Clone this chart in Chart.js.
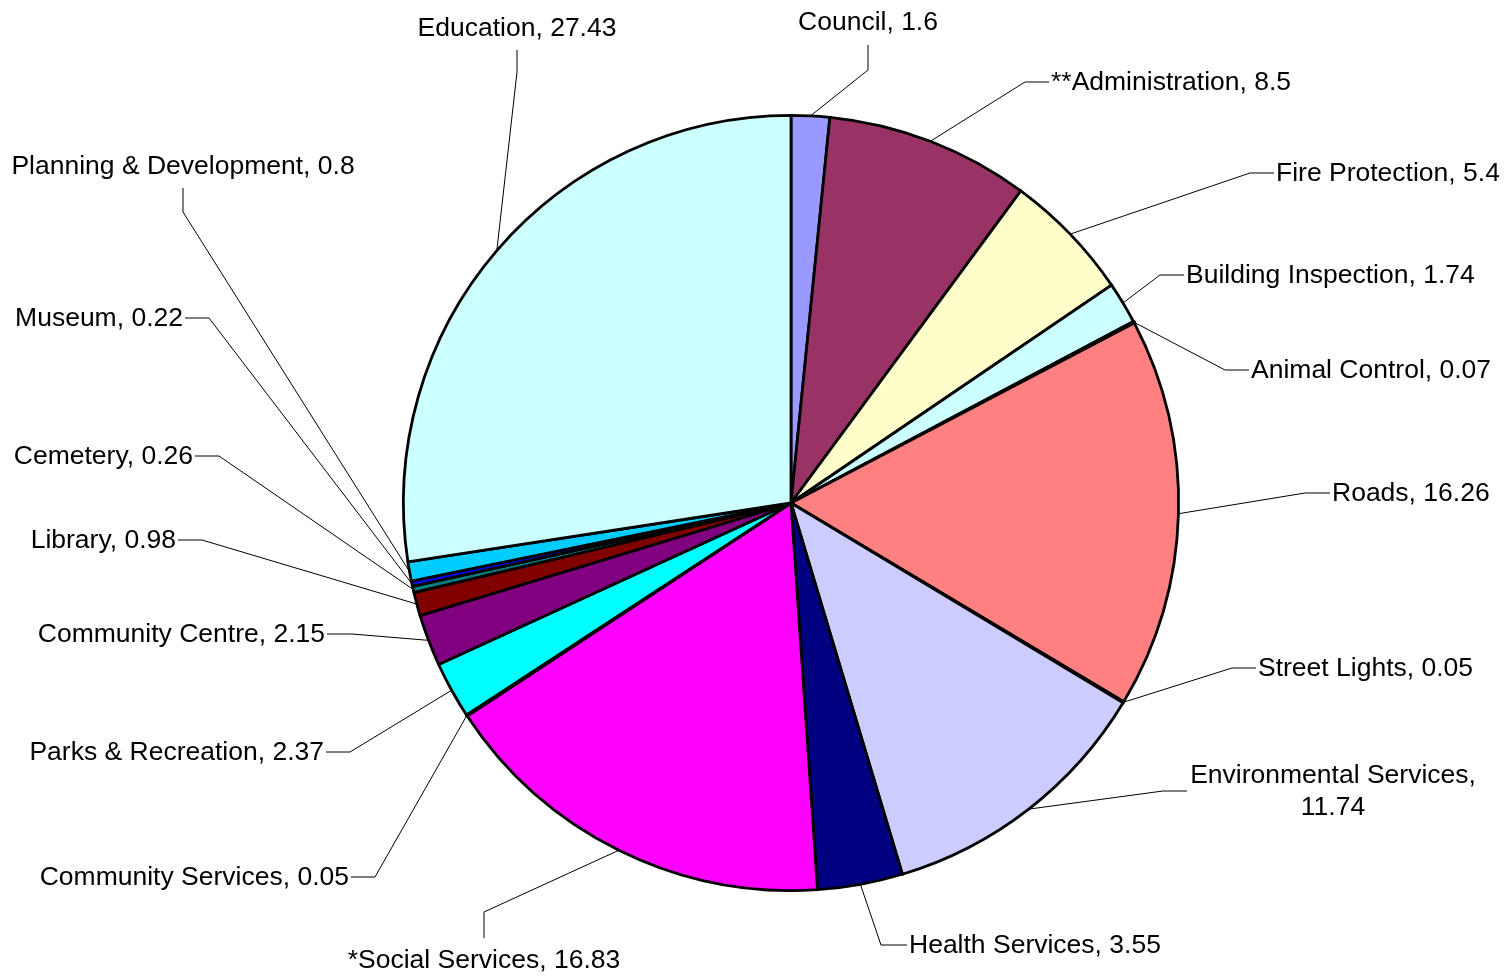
<!DOCTYPE html>
<html>
<head>
<meta charset="utf-8">
<script src="https://cdn.jsdelivr.net/npm/chart.js@4"></script>
<style>
  html, body { margin: 0; padding: 0; background: #fff; }
  #wrap { width: 1507px; height: 976px; }
</style>
</head>
<body>
<div id="wrap"><canvas id="pie" width="1507" height="976"></canvas></div>
<script>
// Budget share by department (%)
const categories = [
    'Council', '**Administration', 'Fire Protection', 'Building Inspection', 'Animal Control',
    'Roads', 'Street Lights', 'Environmental Services', 'Health Services', '*Social Services',
    'Community Services', 'Parks & Recreation', 'Community Centre', 'Library', 'Cemetery',
    'Museum', 'Planning & Development', 'Education'
];
const values = [
    1.6, 8.5, 5.4, 1.74, 0.07,
    16.26, 0.05, 11.74, 3.55, 16.83,
    0.05, 2.37, 2.15, 0.98, 0.26,
    0.22, 0.8, 27.43
];
const colors = [
    '#9999FF', '#993366', '#FFFFCC', '#CCFFFF', '#660066',
    '#FF8080', '#0066CC', '#CCCCFF', '#000080', '#FF00FF',
    '#FFFF00', '#00FFFF', '#800080', '#800000', '#008080',
    '#0000FF', '#00CCFF', '#CCFFFF'
];

// Label placement: elbow of the leader line, its end, where the text sits
const labelLayout = [
    { elbow: [868, 70],   tip: [868, 45],   text: [868, 23],   align: 'center' },
    { elbow: [1025, 82],  tip: [1049, 82],  text: [1051, 83],  align: 'left' },
    { elbow: [1250, 173], tip: [1274, 173], text: [1276, 174], align: 'left' },
    { elbow: [1160, 275], tip: [1184, 275], text: [1186, 276], align: 'left' },
    { elbow: [1225, 370], tip: [1249, 370], text: [1251, 371], align: 'left' },
    { elbow: [1305, 493], tip: [1330, 493], text: [1332, 494], align: 'left' },
    { elbow: [1232, 668], tip: [1256, 668], text: [1258, 669], align: 'left' },
    { elbow: [1163, 791], tip: [1187, 791], text: [1333, 776], align: 'center', split: true },
    { elbow: [881, 945],  tip: [907, 945],  text: [909, 946],  align: 'left' },
    { elbow: [484, 912],  tip: [484, 938],  text: [484, 961],  align: 'center' },
    { elbow: [375, 877],  tip: [351, 877],  text: [349, 878],  align: 'right' },
    { elbow: [350, 752],  tip: [326, 752],  text: [324, 753],  align: 'right' },
    { elbow: [352, 634],  tip: [327, 634],  text: [325, 635],  align: 'right' },
    { elbow: [202, 540],  tip: [178, 540],  text: [176, 541],  align: 'right' },
    { elbow: [219, 456],  tip: [195, 456],  text: [193, 457],  align: 'right' },
    { elbow: [209, 318],  tip: [185, 318],  text: [183, 319],  align: 'right' },
    { elbow: [183, 212],  tip: [183, 188],  text: [183, 167],  align: 'center' },
    { elbow: [517, 72],   tip: [517, 50],   text: [517, 29],   align: 'center' }
];

const leaderLabels = {
    id: 'leaderLabels',
    afterDatasetsDraw(chart) {
        const ctx = chart.ctx;
        const meta = chart.getDatasetMeta(0);
        ctx.save();
        ctx.strokeStyle = '#000';
        ctx.lineWidth = 1;
        ctx.fillStyle = '#000';
        ctx.font = '26.5px "Liberation Sans", Arial, sans-serif';
        ctx.textBaseline = 'middle';
        meta.data.forEach((arc, i) => {
            const lay = labelLayout[i];
            const mid = (arc.startAngle + arc.endAngle) / 2;
            const r = arc.outerRadius;
            const px = arc.x + Math.cos(mid) * r;
            const py = arc.y + Math.sin(mid) * r;
            ctx.beginPath();
            ctx.moveTo(px, py);
            ctx.lineTo(lay.elbow[0], lay.elbow[1]);
            ctx.lineTo(lay.tip[0], lay.tip[1]);
            ctx.stroke();

            ctx.textAlign = lay.align;
            if (lay.split) {
                ctx.fillText(categories[i] + ',', lay.text[0], lay.text[1]);
                ctx.fillText(String(values[i]), lay.text[0], lay.text[1] + 32);
            } else {
                ctx.fillText(categories[i] + ', ' + values[i], lay.text[0], lay.text[1]);
            }
        });
        ctx.restore();
    }
};

new Chart(document.getElementById('pie'), {
    type: 'pie',
    data: {
        labels: categories,
        datasets: [{
            data: values,
            backgroundColor: colors,
            borderColor: '#000',
            borderWidth: 2.8,
            borderJoinStyle: 'miter'
        }]
    },
    options: {
        responsive: false,
        animation: false,
        events: [],
        layout: { padding: { top: 114, bottom: 84, left: 402, right: 327 } },
        plugins: {
            legend: { display: false },
            tooltip: { enabled: false }
        }
    },
    plugins: [leaderLabels]
});
</script>
</body>
</html>
